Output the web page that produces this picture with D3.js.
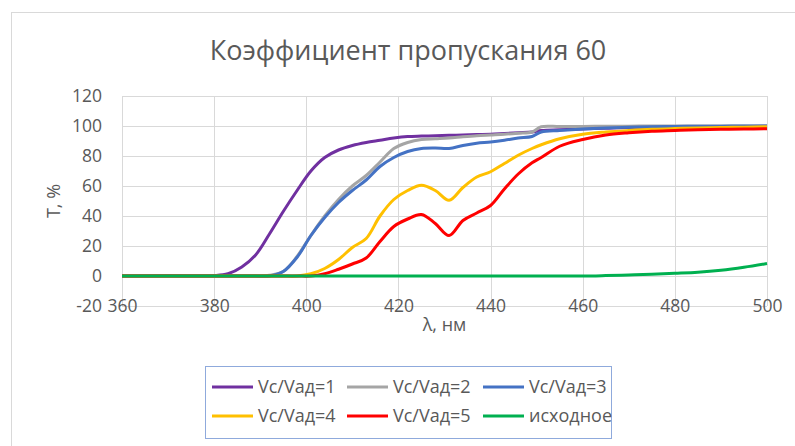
<!DOCTYPE html>
<html>
<head>
<meta charset="utf-8">
<script src="https://cdn.jsdelivr.net/npm/d3@7"></script>
<style>
  body { margin: 0; background: #fff; }
  text { font-family: "Open Sans", sans-serif; fill: #595959; }
</style>
</head>
<body>
<div id="chart"></div>
<script>
// wavelength grid, nm
var lambda = [360, 370, 380, 383, 386, 389, 392, 395, 398, 401, 404, 407, 410, 413, 416, 419, 422, 425, 428,
              431, 434, 437, 440, 443, 446, 449, 451, 455, 460, 465, 470, 475, 480, 485, 490, 495, 500];

// transmission, %
var t1 = [0, 0.3, 0.3, 1.5, 6, 14, 28, 43, 57, 70, 79, 84, 87, 89, 90.5, 92, 93, 93.3, 93.5,
          93.8, 94, 94.3, 94.5, 95, 95.5, 96, 97, 97.5, 98, 98.5, 99, 99.2, 99.4, 99.5, 99.6, 99.7, 99.8];
var t2 = [0, 0, 0, 0, 0, 0, 0.5, 3, 13, 27, 40, 51, 60, 67, 76, 85, 89, 91, 91.5,
          92, 92.8, 93.5, 94, 94.5, 95.2, 96, 99.5, 99.6, 99.7, 99.8, 99.9, 100, 100, 100, 100, 100, 100];
var t3 = [0, 0, 0, 0, 0, 0, 0, 3, 12.5, 27, 39, 49, 57, 64, 73, 79, 83, 85, 85.3,
          85, 87, 88.5, 89.3, 90.5, 92, 93, 96, 97, 98, 98.7, 99.2, 99.5, 99.7, 99.8, 99.9, 100, 100];
var t4 = [0, 0, 0, 0, 0, 0, 0, 0, 0, 1.5, 5, 11, 19, 25, 40, 51, 57, 60.5, 57,
          50.5, 59, 66, 69.5, 75, 80.5, 85, 87.5, 91.5, 94.5, 96, 97, 97.8, 98.3, 98.7, 99, 99.2, 99.5];
var t5 = [0, 0, 0, 0, 0, 0, 0, 0, 0, 0, 1.5, 4.5, 8, 12, 23, 33, 38, 41, 35,
          27, 37, 42, 47, 58, 68, 75.5, 79, 86.5, 91, 94, 95.5, 96.5, 97, 97.5, 97.8, 98, 98.2];
var t0 = [0, 0, 0, 0, 0, 0, 0, 0, 0, 0, 0, 0, 0, 0, 0, 0, 0, 0, 0,
          0, 0, 0, 0, 0, 0, 0, 0, 0, 0, 0.3, 0.7, 1.2, 1.8, 2.5, 3.8, 5.8, 8.3];

var seriesNames = ["Vc/Vад=1", "Vc/Vад=2", "Vc/Vад=3", "Vc/Vад=4", "Vc/Vад=5", "исходное"];
var seriesValues = [t1, t2, t3, t4, t5, t0];
var seriesColors = ["#7030a0", "#a5a5a5", "#4472c4", "#ffc000", "#ff0000", "#00b050"];

var xTicks = [360, 380, 400, 420, 440, 460, 480, 500];
var yTicks = [-20, 0, 20, 40, 60, 80, 100, 120];

var W = 795, H = 446;
var margin = {top: 96, right: 28, bottom: 140, left: 122},
    width = W - margin.left - margin.right,
    height = H - margin.top - margin.bottom;

var svg = d3.select("#chart")
  .append("svg")
    .attr("width", W)
    .attr("height", H);

// chart frame
svg.append("rect")
    .attr("x", 11.5).attr("y", 12.5)
    .attr("width", W).attr("height", H)
    .style("fill", "none").style("stroke", "#d9d9d9");

svg.append("text")
    .text("Коэффициент пропускания 60")
    .attr("x", 408).attr("y", 60)
    .attr("text-anchor", "middle")
    .style("font-size", "27px");

var g = svg.append("g")
    .attr("transform", "translate(" + margin.left + "," + margin.top + ")");

var x = d3.scaleLinear().domain([360, 500]).range([0, width]);
var y = d3.scaleLinear().domain([-20, 120]).range([height, 0]);

// grid
g.append("g")
  .selectAll("line.h").data(yTicks).enter().append("line")
    .attr("x1", 0).attr("x2", width)
    .attr("y1", function(d) { return Math.round(y(d)) + 0.5; })
    .attr("y2", function(d) { return Math.round(y(d)) + 0.5; })
    .style("stroke", "#d9d9d9");
g.append("g")
  .selectAll("line.v").data(xTicks).enter().append("line")
    .attr("y1", 0).attr("y2", height)
    .attr("x1", function(d) { return Math.round(x(d)) + 0.5; })
    .attr("x2", function(d) { return Math.round(x(d)) + 0.5; })
    .style("stroke", "#d9d9d9");

// axes (labels only), plain hyphen for negatives like Excel
var plain = function(d) { return String(d); };
var yAxis = g.append("g")
    .call(d3.axisLeft(y).tickValues(yTicks).tickFormat(plain).tickSize(0).tickPadding(20));
var xAxis = g.append("g")
    .attr("transform", "translate(0," + (height - 6) + ")")
    .call(d3.axisBottom(x).tickValues(xTicks).tickFormat(plain).tickSize(0).tickPadding(0));
[yAxis, xAxis].forEach(function(a) {
  a.select(".domain").remove();
  a.selectAll("text")
    .style("font-size", "17.5px")
    .style("fill", "#595959")
    .style("font-family", "'Open Sans', sans-serif");
});

g.append("text")
    .text("T, %")
    .attr("transform", "translate(" + (-68) + "," + (height / 2) + ")rotate(-90)")
    .attr("text-anchor", "middle")
    .attr("dy", "0.35em")
    .style("font-size", "18px");

g.append("text")
    .text("λ, нм")
    .attr("x", width / 2).attr("y", height + 25)
    .attr("text-anchor", "middle")
    .style("font-size", "18px");

// lines
var line = d3.line()
    .x(function(d, i) { return x(lambda[i]); })
    .y(function(d) { return y(d); })
    .curve(d3.curveCatmullRom.alpha(0.5));

g.selectAll("path.series")
  .data(seriesValues)
  .enter()
  .append("path")
    .attr("class", "series")
    .attr("d", line)
    .style("fill", "none")
    .style("stroke", function(d, i) { return seriesColors[i]; })
    .style("stroke-width", 3)
    .style("stroke-linejoin", "round");

// legend
var legend = svg.append("g");
legend.append("rect")
    .attr("x", 205.5).attr("y", 366.5)
    .attr("width", 406).attr("height", 72)
    .style("fill", "none").style("stroke", "#8faadc");

var colX = [212, 347, 483], rowY = [387, 416];
var items = legend.selectAll("g.item")
  .data(seriesNames)
  .enter()
  .append("g")
    .attr("transform", function(d, i) {
      return "translate(" + colX[i % 3] + "," + rowY[Math.floor(i / 3)] + ")";
    });
items.append("line")
    .attr("x1", 0).attr("x2", 41)
    .style("stroke", function(d, i) { return seriesColors[i]; })
    .style("stroke-width", 3);
items.append("text")
    .text(function(d) { return d; })
    .attr("x", 46).attr("dy", "0.35em")
    .style("font-size", "18px");
</script>
</body>
</html>
